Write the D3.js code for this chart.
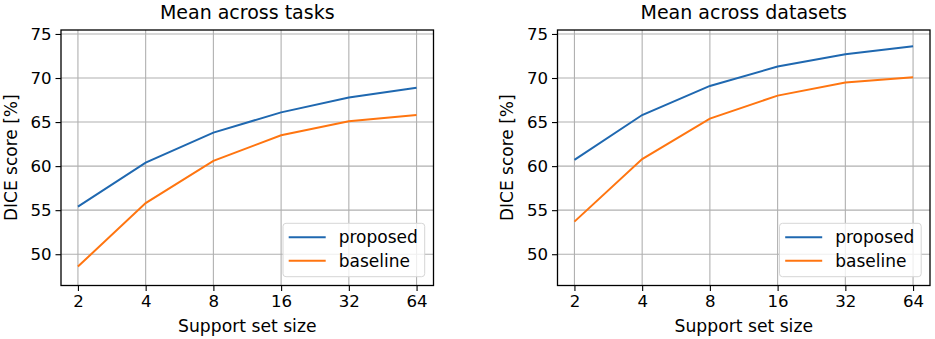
<!DOCTYPE html>
<html><head><meta charset="utf-8">
<script src="https://cdn.jsdelivr.net/npm/d3@7"></script>
<style>body{margin:0;background:#fff}svg{display:block}</style>
</head><body>
<svg id="c" width="935" height="339"></svg>
<script>
const supportSizes = [2, 4, 8, 16, 32, 64];
const yTicks = [50, 55, 60, 65, 70, 75];
const seriesNames = ["proposed", "baseline"];
const seriesColors = ["#1f68b0", "#ff7510"];
const titles = ["Mean across tasks", "Mean across datasets"];
const tasksProposed = [55.4, 60.4, 63.8, 66.1, 67.8, 68.9];
const tasksBaseline = [48.6, 55.8, 60.6, 63.5, 65.1, 65.8];
const datasetsProposed = [60.7, 65.8, 69.1, 71.3, 72.7, 73.6];
const datasetsBaseline = [53.7, 60.8, 65.4, 68.0, 69.5, 70.1];

(function () {
const FONT = "'DejaVu Sans', 'Bitstream Vera Sans', sans-serif";
const panels = [
  {title: titles[0], left: 61, right: 433.5, series: [tasksProposed, tasksBaseline]},
  {title: titles[1], left: 557.5, right: 930, series: [datasetsProposed, datasetsBaseline]}
];
const plotTop = 30, plotBottom = 285.5;
const svg = d3.select("#c");

panels.forEach(p => {
  const x = d3.scaleLog().base(2).domain([Math.pow(2, 0.75), Math.pow(2, 6.25)]).range([p.left, p.right]);
  const y = d3.scaleLinear().domain([46.45, 75.45]).range([plotBottom, plotTop]);
  const g = svg.append("g");
  g.selectAll(".gx").data(supportSizes).join("line")
    .attr("x1", d => x(d)).attr("x2", d => x(d)).attr("y1", plotTop).attr("y2", plotBottom)
    .attr("stroke", "#b0b0b0").attr("stroke-width", 1.1);
  g.selectAll(".gy").data(yTicks).join("line")
    .attr("x1", p.left).attr("x2", p.right).attr("y1", d => y(d)).attr("y2", d => y(d))
    .attr("stroke", "#b0b0b0").attr("stroke-width", 1.1);
  const xa = g.append("g").attr("transform", `translate(0,${plotBottom})`)
    .call(d3.axisBottom(x).tickValues(supportSizes).tickFormat(d3.format("d")).tickSize(5.5).tickPadding(4));
  const ya = g.append("g").attr("transform", `translate(${p.left},0)`)
    .call(d3.axisLeft(y).tickValues(yTicks).tickSize(5.5).tickPadding(4));
  [xa, ya].forEach(a => {
    a.attr("font-family", FONT).attr("font-size", 16.6);
    a.select(".domain").remove();
    a.selectAll("text").attr("fill", "#000");
    a.selectAll("line").attr("stroke", "#000").attr("stroke-width", 1.1);
  });
  const line = d3.line().x((d, i) => x(supportSizes[i])).y(d => y(d));
  p.series.forEach((s, k) => {
    g.append("path").datum(s).attr("d", line).attr("fill", "none")
      .attr("stroke", seriesColors[k]).attr("stroke-width", 2);
  });
  g.append("rect").attr("x", p.left).attr("y", plotTop).attr("width", p.right - p.left).attr("height", plotBottom - plotTop)
    .attr("fill", "none").attr("stroke", "#000").attr("stroke-width", 1.3);
  g.append("text").attr("x", (p.left + p.right) / 2).attr("y", 18.5).attr("text-anchor", "middle")
    .attr("font-family", FONT).attr("font-size", 19).text(p.title);
  g.append("text").attr("x", (p.left + p.right) / 2).attr("y", 331.5).attr("text-anchor", "middle")
    .attr("font-family", FONT).attr("font-size", 17.2).text("Support set size");
  g.append("text").attr("transform", `translate(${p.left - 44.5},${(plotTop + plotBottom) / 2}) rotate(-90)`)
    .attr("text-anchor", "middle").attr("font-family", FONT).attr("font-size", 17).text("DICE score [%]");
  const lx = p.right - 150.5, ly = 223.3;
  const leg = g.append("g");
  leg.append("rect").attr("x", lx).attr("y", ly).attr("width", 141.7).attr("height", 53.4).attr("rx", 3)
    .attr("fill", "#fff").attr("fill-opacity", 0.8).attr("stroke", "#d6d6d6").attr("stroke-width", 1);
  seriesNames.forEach((n, k) => {
    const yy = ly + 14 + k * 23.4;
    leg.append("line").attr("x1", lx + 5.7).attr("x2", lx + 42.7).attr("y1", yy).attr("y2", yy)
      .attr("stroke", seriesColors[k]).attr("stroke-width", 2);
    leg.append("text").attr("x", lx + 55.7).attr("y", yy + 6).attr("font-family", FONT).attr("font-size", 17).text(n);
  });
});
})();
</script>
</body></html>
